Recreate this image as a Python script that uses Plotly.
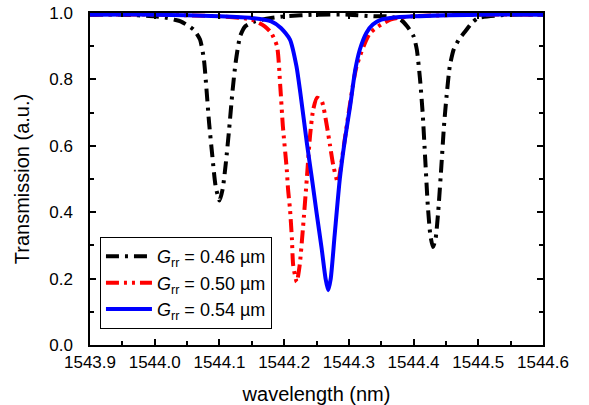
import plotly.graph_objects as go

# G_rr = 0.46 um (black)
x_black = [1543.90, 1543.95, 1544.00, 1544.02, 1544.03, 1544.04, 1544.06, 1544.07, 1544.076, 1544.08,
           1544.084, 1544.089, 1544.094, 1544.10, 1544.105, 1544.11, 1544.115, 1544.12, 1544.125,
           1544.132, 1544.14, 1544.155, 1544.18, 1544.20, 1544.25, 1544.30, 1544.34, 1544.36,
           1544.38, 1544.39, 1544.40, 1544.405, 1544.41, 1544.414, 1544.418, 1544.422, 1544.426,
           1544.43, 1544.434, 1544.438, 1544.443, 1544.447, 1544.451, 1544.456, 1544.462, 1544.47,
           1544.48, 1544.49, 1544.50, 1544.55, 1544.60]
y_black = [0.995, 0.995, 0.99, 0.985, 0.98, 0.975, 0.95, 0.92, 0.86, 0.77,
           0.67, 0.57, 0.48, 0.435, 0.47, 0.55, 0.65, 0.76, 0.85,
           0.93, 0.96, 0.975, 0.985, 0.99, 0.995, 0.995, 0.99, 0.99,
           0.98, 0.96, 0.93, 0.89, 0.80, 0.70, 0.56, 0.42, 0.33,
           0.295, 0.32, 0.40, 0.54, 0.66, 0.75, 0.84, 0.89, 0.92,
           0.945, 0.97, 0.985, 0.995, 0.995]

# G_rr = 0.50 um (red)
x_red = [1543.90, 1544.00, 1544.10, 1544.15, 1544.17, 1544.18, 1544.189, 1544.194, 1544.198,
         1544.204, 1544.206, 1544.209, 1544.212, 1544.214, 1544.2195, 1544.224, 1544.229,
         1544.235, 1544.240, 1544.245, 1544.251, 1544.258, 1544.266, 1544.271, 1544.276,
         1544.283, 1544.29, 1544.299, 1544.312, 1544.333, 1544.364, 1544.40, 1544.50, 1544.60]
y_red = [0.995, 0.995, 0.99, 0.98, 0.96, 0.94, 0.90, 0.78, 0.66,
         0.53, 0.47, 0.41, 0.32, 0.24, 0.19, 0.24, 0.35,
         0.50, 0.63, 0.71, 0.745, 0.735, 0.66, 0.60, 0.54,
         0.49, 0.57, 0.69, 0.84, 0.94, 0.98, 0.99, 0.995, 0.995]

# G_rr = 0.54 um (blue)
x_blue = [1543.90, 1544.00, 1544.10, 1544.15, 1544.18, 1544.195, 1544.209, 1544.219, 1544.225,
          1544.235, 1544.243, 1544.25, 1544.258, 1544.264, 1544.268, 1544.272, 1544.278,
          1544.286, 1544.294, 1544.302, 1544.31, 1544.317, 1544.327, 1544.337, 1544.35,
          1544.364, 1544.40, 1544.50, 1544.60]
y_blue = [0.995, 0.995, 0.99, 0.985, 0.975, 0.955, 0.92, 0.84, 0.76,
          0.61, 0.50, 0.40, 0.29, 0.20, 0.165, 0.20, 0.33,
          0.50, 0.62, 0.72, 0.83, 0.89, 0.94, 0.965, 0.98,
          0.985, 0.99, 0.995, 0.995]

x_ticks = [1543.9, 1544.0, 1544.1, 1544.2, 1544.3, 1544.4, 1544.5, 1544.6]
y_ticks = [0.0, 0.2, 0.4, 0.6, 0.8, 1.0]

names = ["<i>G</i><sub>rr</sub> = 0.46 µm", "<i>G</i><sub>rr</sub> = 0.50 µm", "<i>G</i><sub>rr</sub> = 0.54 µm"]

fig = go.Figure()
fig.add_trace(go.Scatter(x=x_black, y=y_black, mode="lines", name=names[0],
                         line=dict(color="black", width=4, dash="13px,6px,3px,6px", shape="spline", smoothing=0.6)))
fig.add_trace(go.Scatter(x=x_red, y=y_red, mode="lines", name=names[1],
                         line=dict(color="#ff0000", width=4, dash="13px,5px,3px,5px,3px,5px", shape="spline", smoothing=0.6)))
fig.add_trace(go.Scatter(x=x_blue, y=y_blue, mode="lines", name=names[2],
                         line=dict(color="#0000ff", width=4, shape="spline", smoothing=0.6)))

font = dict(family="Liberation Sans, Arial, sans-serif", size=17, color="black")
fig.update_layout(
    width=589, height=405,
    margin=dict(l=90, r=46, t=13, b=60, autoexpand=False),
    paper_bgcolor="white", plot_bgcolor="white",
    font=font,
    showlegend=True,
    legend=dict(x=0.022, y=0.325, xanchor="left", yanchor="top",
                bordercolor="black", borderwidth=1, bgcolor="white",
                font=dict(family="Liberation Sans, Arial, sans-serif", size=18, color="black"),
                tracegroupgap=0, itemwidth=46),
)
fig.update_xaxes(range=[1543.9, 1544.6], tickvals=x_ticks, ticktext=[f"{v:.1f}" for v in x_ticks],
                 automargin=False,
                 showgrid=False, zeroline=False, showline=True, linecolor="black", linewidth=1.5,
                 mirror="ticks", ticks="inside", ticklen=6, tickwidth=1.5, tickcolor="black",
                 ticklabelstandoff=1,
                 minor=dict(ticks="inside", ticklen=4, tickwidth=1.5, tickcolor="black", dtick=0.05, tick0=1543.9),
                 title=dict(text="wavelength (nm)", standoff=20), tickfont=font)
fig.update_yaxes(range=[0, 1.0], tickvals=y_ticks, ticktext=[f"{v:.1f}" for v in y_ticks],
                 automargin=False,
                 showgrid=False, zeroline=False, showline=True, linecolor="black", linewidth=1.5,
                 mirror="ticks", ticks="inside", ticklen=6, tickwidth=1.5, tickcolor="black",
                 ticklabelstandoff=12,
                 minor=dict(ticks="inside", ticklen=4, tickwidth=1.5, tickcolor="black", dtick=0.1, tick0=0),
                 title=dict(text="Transmission (a.u.)", standoff=14), tickfont=font)

fig.write_html("out.html")
